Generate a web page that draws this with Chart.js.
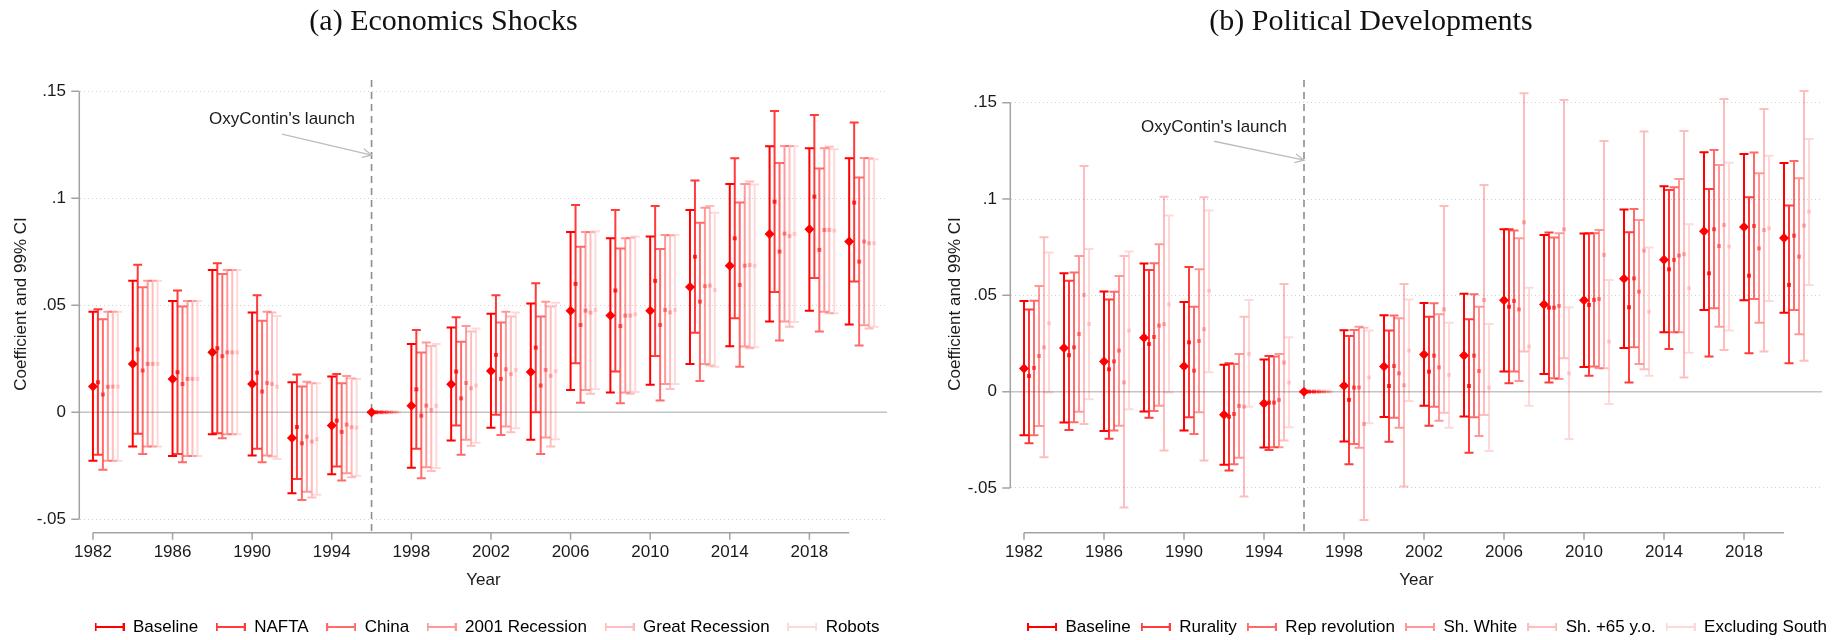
<!DOCTYPE html>
<html>
<head>
<meta charset="utf-8">
<script src="https://cdn.jsdelivr.net/npm/chart.js@4.4.1/dist/chart.umd.min.js"></script>
<style>
  html, body { margin: 0; padding: 0; background: #fff; }
  #wrap { position: relative; width: 1843px; height: 640px; overflow: hidden; }
  .panel { position: absolute; top: 0; height: 640px; }
</style>
</head>
<body>
<div id="wrap">
  <div class="panel" style="left:0;width:892px"><canvas id="econ" width="892" height="640"></canvas></div>
  <div class="panel" style="left:920px;width:923px"><canvas id="pol" width="923" height="640"></canvas></div>
</div>
<script>
// event-study years (1996 is the omitted year)
const years = [1982, 1984, 1986, 1988, 1990, 1992, 1994, 1996, 1998, 2000,
               2002, 2004, 2006, 2008, 2010, 2012, 2014, 2016, 2018, 2020];
const xTickVals = [1982, 1986, 1990, 1994, 1998, 2002, 2006, 2010, 2014, 2018];
const yTickVals = [-0.05, 0, 0.05, 0.1, 0.15];
const yTickLabels = ['-.05', '0', '.05', '.1', '.15'];
const launchYear = 1996;

// baseline (same model in both panels)
const baseCoef = [0.0120, 0.0226, 0.0156, 0.0280, 0.0132, -0.0120, -0.0062, 0, 0.0030, 0.0131, 0.0193, 0.0188, 0.0475, 0.0452, 0.0475, 0.0586, 0.0685, 0.0833, 0.0855, 0.0798];
const baseLo   = [-0.0227, -0.0160, -0.0204, -0.0103, -0.0202, -0.0379, -0.0290, 0, -0.0259, -0.0132, -0.0073, -0.0129, 0.0104, 0.0092, 0.0128, 0.0226, 0.0308, 0.0424, 0.0475, 0.0410];
const baseHi   = [0.0470, 0.0615, 0.0520, 0.0665, 0.0466, 0.0140, 0.0167, 0, 0.0319, 0.0396, 0.0460, 0.0508, 0.0843, 0.0813, 0.0821, 0.0945, 0.1067, 0.1243, 0.1234, 0.1187];

// (a) economic shocks
const naftaCoef = [0.0140, 0.0294, 0.0187, 0.0299, 0.0185, -0.0069, -0.0039, 0, 0.0107, 0.0190, 0.0268, 0.0302, 0.0600, 0.0569, 0.0614, 0.0727, 0.0813, 0.0984, 0.1008, 0.0980];
const naftaLo   = [-0.0199, -0.0101, -0.0195, -0.0098, -0.0171, -0.0312, -0.0254, 0, -0.0171, -0.0062, -0.0012, 0.0000, 0.0229, 0.0190, 0.0263, 0.0372, 0.0439, 0.0562, 0.0628, 0.0611];
const naftaHi   = [0.0481, 0.0690, 0.0569, 0.0696, 0.0547, 0.0176, 0.0179, 0, 0.0385, 0.0444, 0.0547, 0.0603, 0.0969, 0.0945, 0.0964, 0.1083, 0.1187, 0.1408, 0.1389, 0.1354];

const chinaCoef = [0.0083, 0.0195, 0.0132, 0.0262, 0.0097, -0.0145, -0.0092, 0, -0.0016, 0.0065, 0.0156, 0.0125, 0.0408, 0.0403, 0.0408, 0.0517, 0.0595, 0.0751, 0.0759, 0.0704];
const chinaLo   = [-0.0269, -0.0195, -0.0234, -0.0122, -0.0234, -0.0410, -0.0319, 0, -0.0308, -0.0199, -0.0106, -0.0195, 0.0045, 0.0042, 0.0055, 0.0146, 0.0213, 0.0335, 0.0377, 0.0312];
const chinaHi   = [0.0435, 0.0584, 0.0494, 0.0646, 0.0428, 0.0120, 0.0136, 0, 0.0279, 0.0330, 0.0419, 0.0447, 0.0774, 0.0765, 0.0763, 0.0886, 0.0980, 0.1165, 0.1139, 0.1097];

const rec2001Coef = [0.0119, 0.0226, 0.0156, 0.0280, 0.0137, -0.0114, -0.0058, 0, 0.0031, 0.0137, 0.0201, 0.0198, 0.0475, 0.0452, 0.0478, 0.0589, 0.0685, 0.0835, 0.0852, 0.0798];
const rec2001Lo   = [-0.0227, -0.0160, -0.0204, -0.0103, -0.0202, -0.0372, -0.0285, 0, -0.0257, -0.0129, -0.0067, -0.0118, 0.0104, 0.0092, 0.0132, 0.0226, 0.0307, 0.0424, 0.0470, 0.0407];
const rec2001Hi   = [0.0470, 0.0615, 0.0520, 0.0665, 0.0470, 0.0143, 0.0170, 0, 0.0326, 0.0403, 0.0470, 0.0516, 0.0843, 0.0813, 0.0829, 0.0956, 0.1067, 0.1245, 0.1234, 0.1188];

const greatRecCoef = [0.0120, 0.0226, 0.0156, 0.0280, 0.0132, -0.0137, -0.0070, 0, 0.0011, 0.0112, 0.0178, 0.0170, 0.0466, 0.0452, 0.0467, 0.0592, 0.0688, 0.0824, 0.0852, 0.0790];
const greatRecLo   = [-0.0227, -0.0160, -0.0204, -0.0103, -0.0207, -0.0399, -0.0304, 0, -0.0274, -0.0156, -0.0093, -0.0160, 0.0086, 0.0086, 0.0109, 0.0218, 0.0299, 0.0400, 0.0463, 0.0391];
const greatRecHi   = [0.0470, 0.0615, 0.0520, 0.0665, 0.0466, 0.0136, 0.0159, 0, 0.0310, 0.0377, 0.0447, 0.0494, 0.0841, 0.0816, 0.0826, 0.0964, 0.1078, 0.1245, 0.1241, 0.1187];

const robotsCoef = [0.0120, 0.0226, 0.0156, 0.0280, 0.0120, -0.0126, -0.0072, 0, 0.0030, 0.0125, 0.0198, 0.0192, 0.0478, 0.0458, 0.0478, 0.0572, 0.0685, 0.0833, 0.0849, 0.0790];
const robotsLo   = [-0.0227, -0.0160, -0.0204, -0.0103, -0.0218, -0.0386, -0.0297, 0, -0.0260, -0.0142, -0.0075, -0.0126, 0.0107, 0.0095, 0.0132, 0.0213, 0.0304, 0.0422, 0.0463, 0.0400];
const robotsHi   = [0.0470, 0.0615, 0.0520, 0.0665, 0.0450, 0.0136, 0.0156, 0, 0.0319, 0.0391, 0.0466, 0.0512, 0.0846, 0.0821, 0.0829, 0.0933, 0.1064, 0.1243, 0.1229, 0.1182];

// (b) political developments
const ruralCoef = [0.0081, 0.0189, 0.0116, 0.0247, 0.0256, -0.0130, -0.0057, 0, -0.0043, 0.0029, 0.0104, 0.0029, 0.0441, 0.0436, 0.0450, 0.0438, 0.0635, 0.0614, 0.0602, 0.0554];
const ruralLo   = [-0.0268, -0.0199, -0.0244, -0.0135, -0.0133, -0.0410, -0.0303, 0, -0.0377, -0.0260, -0.0177, -0.0317, 0.0043, 0.0047, 0.0083, 0.0048, 0.0222, 0.0182, 0.0199, 0.0147];
const ruralHi   = [0.0427, 0.0576, 0.0479, 0.0632, 0.0647, 0.0147, 0.0185, 0, 0.0289, 0.0317, 0.0389, 0.0376, 0.0843, 0.0826, 0.0822, 0.0827, 0.1047, 0.1052, 0.1009, 0.0966];

const repRevCoef = [0.0123, 0.0230, 0.0157, 0.0284, 0.0109, -0.0116, -0.0057, 0, 0.0021, 0.0133, 0.0187, 0.0187, 0.0471, 0.0436, 0.0476, 0.0588, 0.0684, 0.0843, 0.0860, 0.0810];
const repRevLo   = [-0.0227, -0.0159, -0.0202, -0.0100, -0.0220, -0.0377, -0.0289, 0, -0.0272, -0.0135, -0.0078, -0.0133, 0.0104, 0.0069, 0.0130, 0.0230, 0.0308, 0.0433, 0.0481, 0.0424];
const repRevHi   = [0.0472, 0.0618, 0.0519, 0.0666, 0.0441, 0.0144, 0.0182, 0, 0.0320, 0.0395, 0.0459, 0.0505, 0.0836, 0.0800, 0.0822, 0.0948, 0.1061, 0.1255, 0.1241, 0.1198];

const shWhiteCoef = [0.0185, 0.0299, 0.0213, 0.0343, 0.0263, -0.0074, -0.0043, 0, 0.0022, 0.0095, 0.0126, 0.0107, 0.0427, 0.0445, 0.0481, 0.0519, 0.0706, 0.0756, 0.0744, 0.0701];
const shWhiteLo   = [-0.0178, -0.0104, -0.0177, -0.0073, -0.0107, -0.0343, -0.0289, 0, -0.0291, -0.0187, -0.0151, -0.0230, 0.0055, 0.0066, 0.0121, 0.0144, 0.0308, 0.0337, 0.0358, 0.0298];
const shWhiteHi   = [0.0549, 0.0704, 0.0601, 0.0765, 0.0635, 0.0196, 0.0196, 0, 0.0337, 0.0381, 0.0402, 0.0441, 0.0796, 0.0822, 0.0839, 0.0891, 0.1104, 0.1177, 0.1134, 0.1108];

const sh65Coef = [0.0230, 0.0502, 0.0048, 0.0350, 0.0324, -0.0078, 0.0151, 0, -0.0168, 0.0033, 0.0427, 0.0476, 0.0879, 0.0843, 0.0710, 0.0732, 0.0713, 0.0865, 0.0839, 0.0862];
const sh65Lo   = [-0.0341, -0.0168, -0.0602, -0.0306, -0.0358, -0.0545, -0.0254, 0, -0.0666, -0.0493, -0.0109, -0.0121, 0.0208, 0.0173, 0.0121, 0.0116, 0.0074, 0.0216, 0.0208, 0.0161];
const sh65Hi   = [0.0801, 0.1172, 0.0704, 0.1012, 0.1009, 0.0389, 0.0559, 0, 0.0332, 0.0559, 0.0964, 0.1073, 0.1549, 0.1514, 0.1301, 0.1350, 0.1353, 0.1520, 0.1468, 0.1561];

const exSouthCoef = [0.0355, 0.0351, 0.0317, 0.0453, 0.0524, 0.0196, 0.0047, 0, 0.0074, 0.0213, 0.0087, 0.0021, 0.0234, 0.0095, 0.0260, 0.0415, 0.0537, 0.0753, 0.0848, 0.0935];
const exSouthLo   = [-0.0005, -0.0040, -0.0092, -0.0005, 0.0100, -0.0078, -0.0185, 0, -0.0164, -0.0048, -0.0187, -0.0308, -0.0073, -0.0246, -0.0064, 0.0083, 0.0202, 0.0317, 0.0471, 0.0554];
const exSouthHi   = [0.0722, 0.0741, 0.0727, 0.0914, 0.0940, 0.0476, 0.0282, 0, 0.0317, 0.0479, 0.0358, 0.0351, 0.0540, 0.0438, 0.0580, 0.0748, 0.0869, 0.1189, 0.1225, 0.1312];

const econLabels = ['Baseline', 'NAFTA', 'China', '2001 Recession', 'Great Recession', 'Robots'];
const polLabels = ['Baseline', 'Rurality', 'Rep revolution', 'Sh. White', 'Sh. +65 y.o.', 'Excluding South'];

// look
const SANS = "'Liberation Sans', Arial, sans-serif";
const SERIF = "'Liberation Serif', 'Times New Roman', serif";
const TXT = '#1a1a1a';
const AXIS_COL = '#a3a3a3';
const shadeAlpha = [1, 0.77, 0.58, 0.4, 0.26, 0.15];
const SERIES_STEP = 0.25;   // horizontal offset between specifications (years)
const CAP = 4.5;
const AXIS_GAP = 4.7;

function legendIcon(color) {
  const c = document.createElement('canvas');
  c.width = 30; c.height = 12;
  const g = c.getContext('2d');
  g.strokeStyle = color; g.lineWidth = 2;
  g.beginPath();
  g.moveTo(1, 6); g.lineTo(29, 6);
  g.moveTo(1, 2); g.lineTo(1, 10);
  g.moveTo(29, 2); g.lineTo(29, 10);
  g.stroke();
  return c;
}

const stataLook = {
  id: 'stataLook',
  afterLayout(chart, args, o) {
    const lg = chart.legend;
    if (!lg) return;
    const w = lg.right - lg.left, h = lg.bottom - lg.top;
    lg.left = o.legendCenter - w / 2; lg.right = lg.left + w;
    lg.top = o.legendTop; lg.bottom = lg.top + h;
    lg.adjustHitBoxes();
  },
  beforeDatasetsDraw(chart) {
    const { ctx, chartArea: a, scales: { x, y } } = chart;
    ctx.save();
    const y0 = y.getPixelForValue(0);
    ctx.strokeStyle = '#c4c4c4'; ctx.lineWidth = 1.5;
    ctx.beginPath(); ctx.moveTo(a.left, y0); ctx.lineTo(a.right, y0); ctx.stroke();

    const xl = x.getPixelForValue(launchYear);
    ctx.strokeStyle = '#8e8e8e'; ctx.lineWidth = 1.6; ctx.setLineDash([7, 5]);
    ctx.beginPath(); ctx.moveTo(xl, a.top); ctx.lineTo(xl, a.bottom + AXIS_GAP); ctx.stroke();
    ctx.setLineDash([]);

    // 99% CI whiskers
    chart.data.datasets.forEach(ds => {
      ctx.strokeStyle = ds.borderColor; ctx.lineWidth = 2;
      ds.data.forEach((p, i) => {
        const px = x.getPixelForValue(p.x);
        const lo = y.getPixelForValue(ds.errLo[i]);
        const hi = y.getPixelForValue(ds.errHi[i]);
        ctx.beginPath();
        ctx.moveTo(px, lo); ctx.lineTo(px, hi);
        ctx.moveTo(px - CAP, lo); ctx.lineTo(px + CAP, lo);
        ctx.moveTo(px - CAP, hi); ctx.lineTo(px + CAP, hi);
        ctx.stroke();
      });
    });
    ctx.restore();
  },
  afterDraw(chart) {
    const { ctx, chartArea: a, scales: { x, y } } = chart;
    ctx.save();
    ctx.strokeStyle = AXIS_COL; ctx.lineWidth = 1.5;
    // y axis (spans the tick range only)
    const xa = a.left - 0.7;
    ctx.beginPath();
    ctx.moveTo(xa, y.getPixelForValue(yTickVals[0]));
    ctx.lineTo(xa, y.getPixelForValue(yTickVals[yTickVals.length - 1]));
    yTickVals.forEach(v => {
      const yp = y.getPixelForValue(v);
      ctx.moveTo(xa - 8, yp); ctx.lineTo(xa, yp);
    });
    // x axis
    const ya = a.bottom + AXIS_GAP;
    ctx.moveTo(x.getPixelForValue(years[0]), ya);
    ctx.lineTo(x.getPixelForValue(years[years.length - 1]), ya);
    xTickVals.forEach(v => {
      const xp = x.getPixelForValue(v);
      ctx.moveTo(xp, ya); ctx.lineTo(xp, ya + 7);
    });
    ctx.stroke();

    // annotation
    const tx = x.getPixelForValue(1991.5), ty = y.getPixelForValue(0.137);
    ctx.fillStyle = TXT; ctx.font = '17px ' + SANS;
    ctx.textAlign = 'center'; ctx.textBaseline = 'middle';
    ctx.fillText("OxyContin's launch", tx, ty);
    const x1 = x.getPixelForValue(1991.5), y1 = y.getPixelForValue(0.130);
    const x2 = x.getPixelForValue(launchYear), y2 = y.getPixelForValue(0.1202);
    const ang = Math.atan2(y2 - y1, x2 - x1);
    ctx.strokeStyle = '#bdbdbd'; ctx.lineWidth = 1.3;
    ctx.beginPath();
    ctx.moveTo(x1, y1); ctx.lineTo(x2, y2);
    ctx.moveTo(x2 - 10 * Math.cos(ang - 0.45), y2 - 10 * Math.sin(ang - 0.45));
    ctx.lineTo(x2, y2);
    ctx.lineTo(x2 - 10 * Math.cos(ang + 0.45), y2 - 10 * Math.sin(ang + 0.45));
    ctx.stroke();
    ctx.restore();
  }
};

function buildPanel(canvasId, cfg) {
  const datasets = cfg.series.map((s, k) => {
    const col = `rgba(255, 0, 0, ${shadeAlpha[k]})`;
    return {
      label: cfg.labels[k],
      data: years.map((yr, i) => ({ x: yr + k * SERIES_STEP, y: s[0][i] })),
      errLo: s[1],
      errHi: s[2],
      backgroundColor: col,
      borderColor: col,
      borderWidth: 0,
      pointStyle: k === 0 ? 'rectRot' : 'rect',
      pointRadius: k === 0 ? 5 : 2.8,
      showLine: false
    };
  });
  const icons = datasets.map(d => legendIcon(d.borderColor));
  const font = { family: SANS, size: 17 };

  new Chart(document.getElementById(canvasId), {
    type: 'scatter',
    data: { datasets },
    options: {
      responsive: false,
      animation: false,
      devicePixelRatio: 1,
      events: [],
      layout: { padding: { left: 0, right: cfg.padRight, top: 0, bottom: cfg.padBottom } },
      plugins: {
        tooltip: { enabled: false },
        title: {
          display: true, text: cfg.title, color: '#111',
          font: { family: SERIF, size: 30, weight: 'normal' },
          padding: { top: 4, bottom: 40 }
        },
        legend: {
          position: 'bottom',
          labels: {
            usePointStyle: true, pointStyleWidth: 30, padding: cfg.legendPad,
            color: TXT, font,
            generateLabels: chart => chart.data.datasets.map((d, i) => ({
              text: d.label, pointStyle: icons[i], fillStyle: d.borderColor,
              strokeStyle: d.borderColor, lineWidth: 0, hidden: false, datasetIndex: i
            }))
          }
        },
        stataLook: { legendCenter: cfg.legendCenter, legendTop: cfg.legendTop }
      },
      scales: {
        x: {
          type: 'linear', min: 1981.35, max: 2021.9,
          afterBuildTicks: ax => { ax.ticks = xTickVals.map(v => ({ value: v })); },
          afterFit: ax => { ax.height = 67.5; },
          grid: { display: false, drawTicks: false },
          border: { display: false },
          ticks: { callback: v => String(v), color: TXT, font, padding: 13.8, autoSkip: false, maxRotation: 0 },
          title: { display: true, text: 'Year', color: TXT, font, padding: { top: 0, bottom: 5.3 } }
        },
        y: {
          min: cfg.yMin, max: cfg.yMax,
          afterBuildTicks: ax => { ax.ticks = yTickVals.map(v => ({ value: v })); },
          afterFit: ax => { ax.width = cfg.yAxisWidth; },
          grid: {
            drawTicks: false, lineWidth: 1,
            color: c => (c.tick && c.tick.value === 0) ? 'rgba(0,0,0,0)' : '#cfcfcf'
          },
          border: { display: false, dash: [1, 3] },
          ticks: { callback: (v, i) => yTickLabels[i], color: TXT, font, padding: 14 },
          title: { display: true, text: 'Coefficient and 99% CI', color: TXT, font, padding: { top: cfg.yTitlePad, bottom: 0 } }
        }
      }
    },
    plugins: [stataLook]
  });
}

buildPanel('econ', {
  title: '(a) Economics Shocks',
  labels: econLabels,
  series: [
    [baseCoef, baseLo, baseHi],
    [naftaCoef, naftaLo, naftaHi],
    [chinaCoef, chinaLo, chinaHi],
    [rec2001Coef, rec2001Lo, rec2001Hi],
    [greatRecCoef, greatRecLo, greatRecHi],
    [robotsCoef, robotsLo, robotsHi]
  ],
  yMin: -0.0541, yMax: 0.1553,
  yAxisWidth: 80, yTitlePad: 11.5,
  padRight: 5, padBottom: 0,
  legendPad: 17.5, legendCenter: 487, legendTop: 601
});

buildPanel('pol', {
  title: '(b) Political Developments',
  labels: polLabels,
  series: [
    [baseCoef, baseLo, baseHi],
    [ruralCoef, ruralLo, ruralHi],
    [repRevCoef, repRevLo, repRevHi],
    [shWhiteCoef, shWhiteLo, shWhiteHi],
    [sh65Coef, sh65Lo, sh65Hi],
    [exSouthCoef, exSouthLo, exSouthHi]
  ],
  yMin: -0.0708, yMax: 0.1618,
  yAxisWidth: 91, yTitlePad: 24.8,
  padRight: 21, padBottom: 7.5,
  legendPad: 10, legendCenter: 507, legendTop: 608.5
});
</script>
</body>
</html>
